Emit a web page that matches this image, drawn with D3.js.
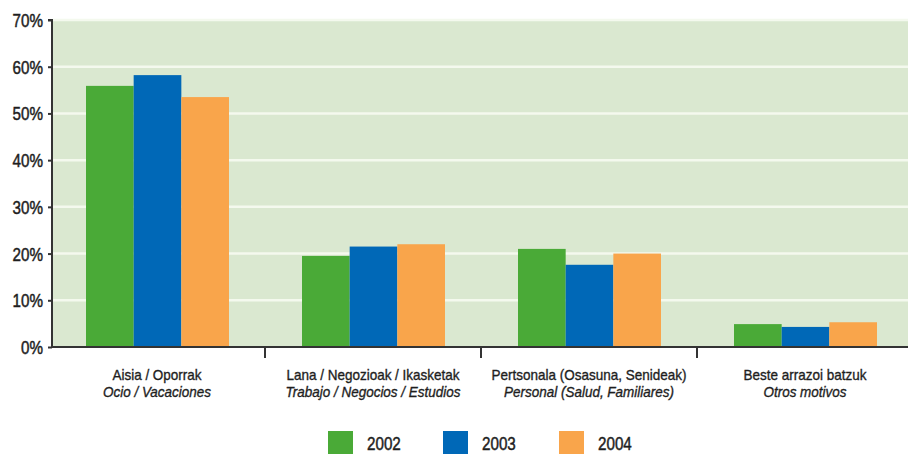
<!DOCTYPE html>
<html><head><meta charset="utf-8">
<script src="https://cdn.jsdelivr.net/npm/d3@7"></script>
<style>
body{margin:0;background:#fff;}
svg{display:block;font-family:"Liberation Sans",Arial,sans-serif;}
</style></head>
<body>
<svg id="c" width="908" height="454"></svg>
<script>
const categoriesEu = ["Aisia / Oporrak","Lana / Negozioak / Ikasketak","Pertsonala (Osasuna, Senideak)","Beste arrazoi batzuk"];
const categoriesEs = ["Ocio / Vacaciones","Trabajo / Negocios / Estudios","Personal (Salud, Familiares)","Otros motivos"];
const years = ["2002","2003","2004"];
const v2002 = [55.9, 19.5, 21.0, 4.9];
const v2003 = [58.2, 21.5, 17.6, 4.3];
const v2004 = [53.5, 22.0, 20.0, 5.3];
const yTicks = [0,10,20,30,40,50,60,70];
const colors = ["#4aaa37","#0068b7","#f9a54b"];

const series = [v2002, v2003, v2004];
const svg = d3.select("#c");
const x0 = 49, x1 = 913, yTop = 20, yBot = 347;
const x = d3.scaleBand().domain(d3.range(categoriesEu.length)).range([x0, x1]).paddingInner(0).paddingOuter(0);
const xi = d3.scaleBand().domain(years).range([37, 180]);
const y = d3.scaleLinear().domain([0,70]).range([yBot, yTop]);

// condensed text helper (horizontal scaling)
function ctext(sel, px, py, str, size, sx, anchor, italic, sw) {
  return sel.append("text")
    .attr("transform", `translate(${px},${py}) scale(${sx},1)`)
    .attr("text-anchor", anchor)
    .attr("font-size", size)
    .attr("font-style", italic ? "italic" : null)
    .attr("fill", "#1e1e1e")
    .attr("stroke", "#1e1e1e")
    .attr("stroke-width", sw)
    .text(str);
}

// background
svg.append("rect").attr("x", 53).attr("y", y(70)).attr("width", 908-53).attr("height", y(0)-y(70)).attr("fill", "#dae8d0");
// gridlines
svg.append("g").selectAll("line").data(yTicks.filter(t=>t>0)).join("line")
  .attr("x1", 53).attr("x2", 908).attr("y1", d=>y(d)).attr("y2", d=>y(d))
  .attr("stroke", "#f4f9ee").attr("stroke-width", 2.5);

// bars
const g = svg.append("g");
categoriesEu.forEach((c, i) => {
  series.forEach((s, j) => {
    g.append("rect")
      .attr("x", x(i) + xi(years[j]))
      .attr("y", y(s[i]))
      .attr("width", xi.bandwidth())
      .attr("height", y(0) - y(s[i]))
      .attr("fill", colors[j]);
  });
});

// y axis
const ya = svg.append("g").attr("transform", "translate(52,0)")
  .call(d3.axisLeft(y).tickValues(yTicks).tickFormat(d => d + "%").tickSize(4).tickPadding(6));
ya.select(".domain").attr("stroke", "#333").attr("stroke-width", 2).attr("d", `M-4,${y(70)}H0V${y(0)}`);
ya.selectAll(".tick line").attr("stroke", "#333").attr("stroke-width", 2);
ya.selectAll(".tick text").remove();
ya.selectAll(".tick").each(function(d) {
  ctext(d3.select(this), -9, 6.5, d + "%", 19, 0.8, "end", false, 0.5);
});

// x axis
svg.append("line").attr("x1", 51).attr("x2", 908).attr("y1", y(0)).attr("y2", y(0)).attr("stroke", "#333").attr("stroke-width", 2);
svg.append("g").selectAll("line").data(d3.range(1, categoriesEu.length)).join("line")
  .attr("x1", d => x(d)).attr("x2", d => x(d)).attr("y1", y(0)).attr("y2", y(0) + 11)
  .attr("stroke", "#333").attr("stroke-width", 2);

// category labels
const lab = svg.append("g");
categoriesEu.forEach((c, i) => {
  const cx = x(i) + x.bandwidth() / 2;
  ctext(lab, cx, 380, c, 15, 0.9, "middle", false, 0.35);
  ctext(lab, cx, 397, categoriesEs[i], 15, 0.9, "middle", true, 0.35);
});

// legend
const lg = svg.append("g");
const legX = [328, 443, 559];
years.forEach((yr, j) => {
  lg.append("rect").attr("x", legX[j]).attr("y", 431).attr("width", 25).attr("height", 23).attr("fill", colors[j]);
  ctext(lg, legX[j] + 39, 450, yr, 19, 0.8, "start", false, 0.5);
});
</script>
</body></html>
